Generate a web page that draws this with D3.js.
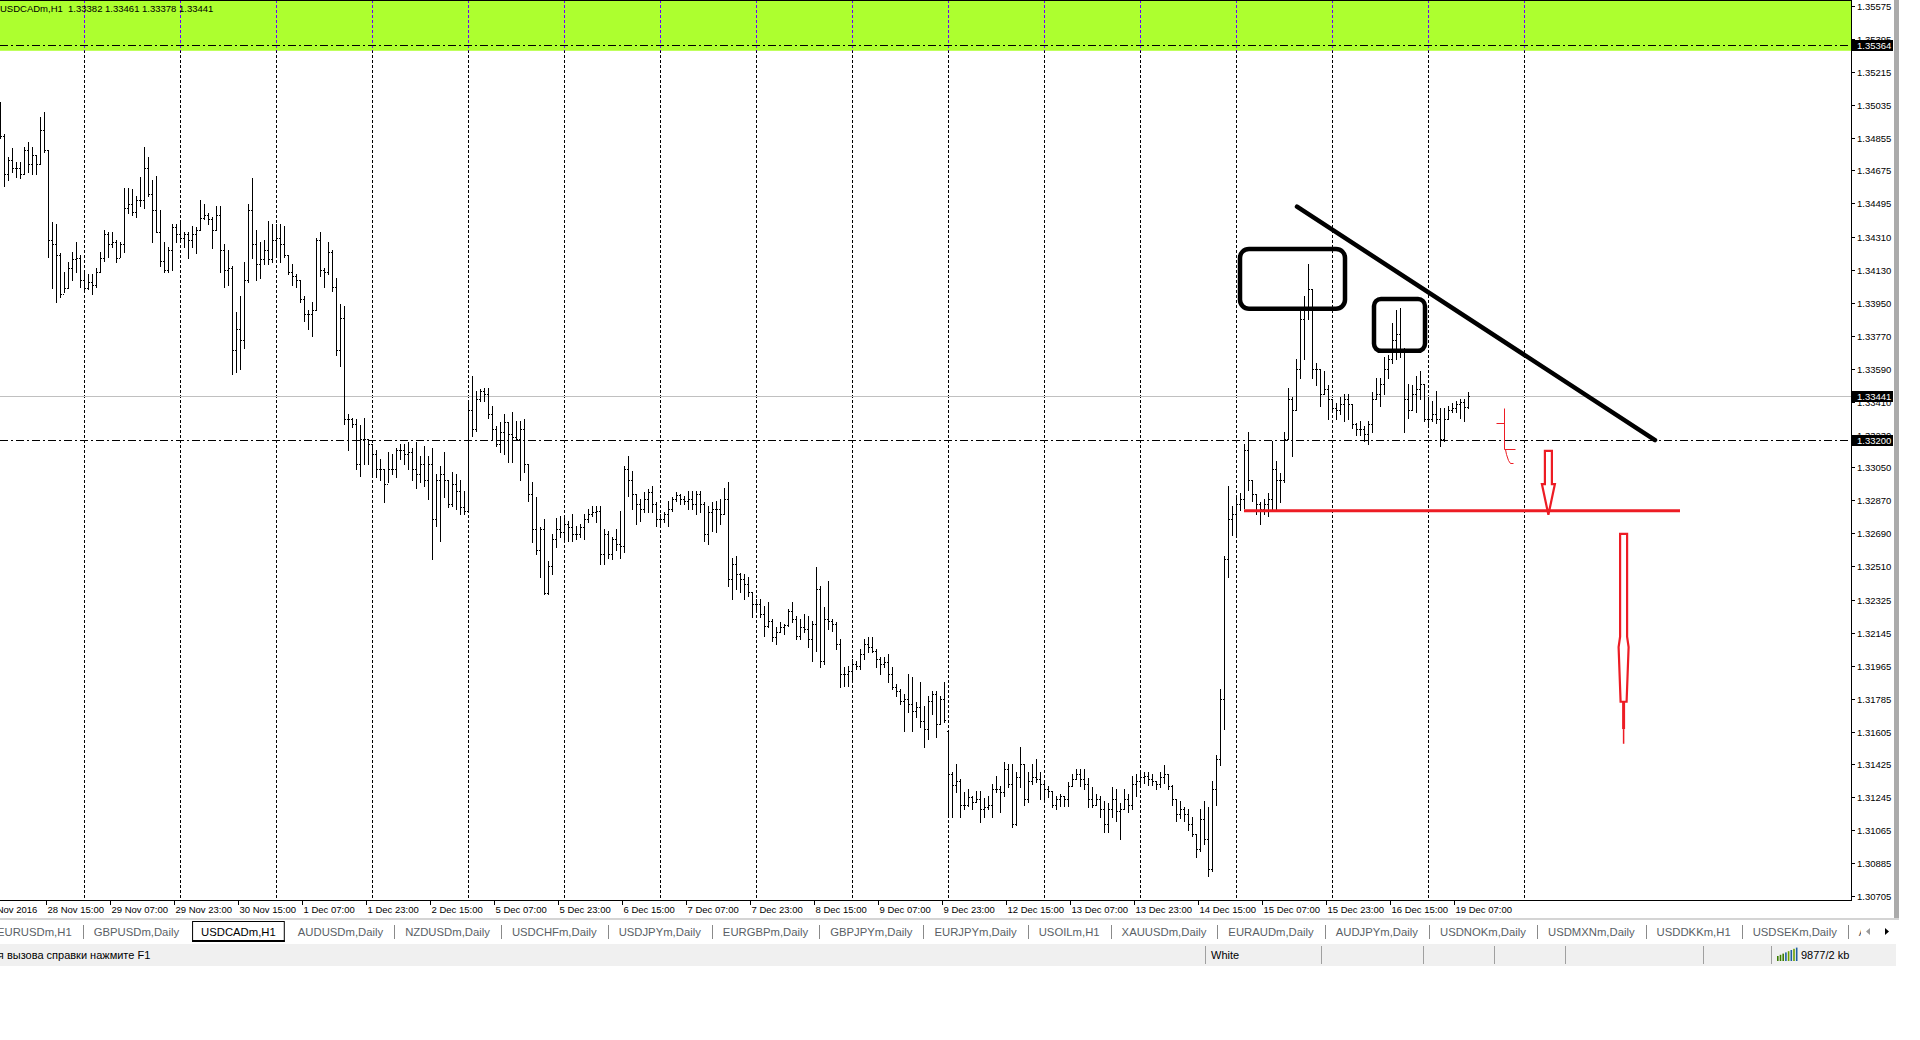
<!DOCTYPE html>
<html><head><meta charset="utf-8">
<script src="https://cdn.jsdelivr.net/npm/d3@7"></script>
<style>
html,body{margin:0;padding:0;background:#fff;overflow:hidden;}
svg{display:block;}
text{font-family:"Liberation Sans",Arial,sans-serif;}
</style></head><body>
<svg id="c" width="1920" height="1040"></svg>
<script>
// ---------------- DATA ----------------
const chartTitle = "USDCADm,H1";
const lastQuote = [1.33382, 1.33461, 1.33378, 1.33441];

const barOpen = [1.34981,1.34866,1.34653,1.34735,1.34691,1.34691,1.34653,1.34789,1.34708,1.34762,1.34708,1.34899,1.34789,1.34297,1.34270,1.34215,1.33997,1.34034,1.34144,1.34188,
1.34198,1.34078,1.34034,1.34067,1.34051,1.34122,1.34198,1.34325,1.34270,1.34286,1.34198,1.34270,1.34472,1.34489,1.34450,1.34516,1.34516,1.34691,1.34544,1.34461,
1.34341,1.34177,1.34133,1.34242,1.34363,1.34325,1.34308,1.34325,1.34297,1.34325,1.34352,1.34417,1.34434,1.34407,1.34352,1.34434,1.34242,1.34133,1.34144,1.33695,
1.33805,1.33750,1.34078,1.34461,1.34270,1.34161,1.34188,1.34242,1.34188,1.34297,1.34308,1.34270,1.34215,1.34122,1.34095,1.34078,1.33969,1.33887,1.33887,1.33914,
1.34297,1.34133,1.34122,1.34231,1.34040,1.33695,1.33870,1.33313,1.33313,1.33286,1.33067,1.33203,1.33203,1.33176,1.33121,1.33039,1.33039,1.32957,1.33039,1.33039,
1.33148,1.33148,1.33121,1.33137,1.33039,1.33012,1.33067,1.32984,1.33067,1.32766,1.32984,1.33012,1.32984,1.32848,1.32957,1.32919,1.32831,1.32809,1.33367,1.33258,
1.33422,1.33466,1.33450,1.33340,1.33258,1.33176,1.33242,1.33297,1.33231,1.33214,1.33203,1.33258,1.33067,1.32903,1.32711,1.32601,1.32711,1.32361,1.32509,1.32656,
1.32711,1.32695,1.32738,1.32722,1.32684,1.32684,1.32722,1.32766,1.32793,1.32804,1.32809,1.32574,1.32684,1.32574,1.32656,1.32629,1.32618,1.33039,1.32984,1.32903,
1.32848,1.32820,1.32875,1.32914,1.32848,1.32766,1.32766,1.32793,1.32820,1.32875,1.32897,1.32875,1.32864,1.32875,1.32848,1.32903,1.32848,1.32684,1.32804,1.32820,
1.32820,1.32793,1.32875,1.32437,1.32520,1.32465,1.32437,1.32410,1.32367,1.32301,1.32301,1.32246,1.32181,1.32208,1.32120,1.32148,1.32175,1.32186,1.32262,1.32219,
1.32125,1.32175,1.32164,1.32109,1.32191,1.32383,1.31989,1.32219,1.32208,1.32191,1.32082,1.31918,1.31918,1.31934,1.31973,1.31962,1.32027,1.32082,1.32065,1.32043,
1.32000,1.31973,1.31984,1.31918,1.31847,1.31825,1.31770,1.31781,1.31754,1.31715,1.31737,1.31661,1.31617,1.31770,1.31809,1.31644,1.31781,1.31606,1.31371,1.31315,
1.31332,1.31205,1.31205,1.31245,1.31218,1.31234,1.31179,1.31190,1.31205,1.31289,1.31289,1.31273,1.31398,1.31316,1.31097,1.31354,1.31425,1.31234,1.31332,1.31354,
1.31343,1.31316,1.31289,1.31278,1.31205,1.31234,1.31250,1.31234,1.31305,1.31343,1.31371,1.31343,1.31316,1.31234,1.31205,1.31234,1.31179,1.31097,1.31179,1.31234,
1.31168,1.31179,1.31234,1.31205,1.31316,1.31332,1.31354,1.31360,1.31343,1.31332,1.31316,1.31354,1.31371,1.31305,1.31234,1.31152,1.31179,1.31152,1.31097,1.31042,
1.30960,1.31125,1.31015,1.30851,1.31289,1.31453,1.31781,1.32547,1.32766,1.32793,1.32848,1.32875,1.33148,1.32984,1.32903,1.32848,1.32820,1.32848,1.32875,1.33039,
1.32984,1.32984,1.33203,1.33422,1.33367,1.33586,1.33860,1.33914,1.34024,1.33586,1.33586,1.33450,1.33477,1.33422,1.33378,1.33367,1.33395,1.33422,1.33395,1.33286,
1.33258,1.33258,1.33231,1.33286,1.33422,1.33450,1.33504,1.33586,1.33641,1.33750,1.33778,1.33695,1.33422,1.33367,1.33450,1.33477,1.33504,1.33313,1.33313,1.33340,
1.33313,1.33203,1.33313,1.33367,1.33378,1.33395,1.33406,1.33382];

const barHigh = [1.35052,1.34872,1.34751,1.34800,1.34724,1.34724,1.34806,1.34833,1.34806,1.34762,1.34970,1.34997,1.34789,1.34391,1.34380,1.34226,1.34122,1.34172,1.34231,1.34286,
1.34215,1.34133,1.34106,1.34106,1.34144,1.34231,1.34352,1.34341,1.34336,1.34297,1.34281,1.34581,1.34581,1.34571,1.34533,1.34642,1.34806,1.34751,1.34625,1.34647,
1.34461,1.34286,1.34259,1.34380,1.34380,1.34396,1.34341,1.34341,1.34369,1.34363,1.34516,1.34489,1.34445,1.34423,1.34478,1.34478,1.34270,1.34242,1.34150,1.33898,
1.33986,1.34172,1.34489,1.34636,1.34352,1.34286,1.34297,1.34396,1.34380,1.34380,1.34380,1.34369,1.34215,1.34161,1.34106,1.34078,1.33986,1.33914,1.33953,1.34308,
1.34341,1.34144,1.34286,1.34242,1.34089,1.33942,1.33931,1.33340,1.33323,1.33313,1.33280,1.33318,1.33203,1.33176,1.33148,1.33094,1.33039,1.33132,1.33121,1.33159,
1.33176,1.33176,1.33187,1.33159,1.33187,1.33110,1.33165,1.33110,1.33159,1.33012,1.33056,1.33132,1.32984,1.33023,1.33012,1.32984,1.32919,1.33411,1.33548,1.33466,
1.33477,1.33482,1.33482,1.33384,1.33275,1.33297,1.33340,1.33297,1.33351,1.33302,1.33302,1.33313,1.33067,1.32968,1.32886,1.32722,1.32766,1.32536,1.32684,1.32776,
1.32782,1.32776,1.32755,1.32793,1.32728,1.32738,1.32793,1.32820,1.32837,1.32837,1.32837,1.32711,1.32700,1.32667,1.32711,1.32809,1.33056,1.33110,1.33028,1.32903,
1.32875,1.32914,1.32930,1.32946,1.32859,1.32793,1.32804,1.32864,1.32886,1.32914,1.32903,1.32892,1.32919,1.32919,1.32919,1.32919,1.32859,1.32837,1.32859,1.32864,
1.32875,1.32940,1.32968,1.32557,1.32568,1.32470,1.32465,1.32448,1.32367,1.32328,1.32328,1.32290,1.32312,1.32219,1.32175,1.32202,1.32191,1.32273,1.32312,1.32235,
1.32219,1.32246,1.32235,1.32208,1.32503,1.32399,1.32284,1.32426,1.32219,1.32202,1.32109,1.31956,1.31962,1.32000,1.31989,1.32054,1.32109,1.32120,1.32120,1.32054,
1.32011,1.32011,1.32027,1.31956,1.31863,1.31836,1.31809,1.31918,1.31902,1.31765,1.31874,1.31743,1.31798,1.31825,1.31825,1.31798,1.31874,1.31606,1.31382,1.31425,
1.31343,1.31273,1.31289,1.31250,1.31278,1.31278,1.31240,1.31250,1.31316,1.31360,1.31305,1.31436,1.31425,1.31425,1.31382,1.31518,1.31425,1.31382,1.31425,1.31453,
1.31382,1.31332,1.31305,1.31278,1.31250,1.31261,1.31250,1.31327,1.31371,1.31398,1.31398,1.31398,1.31349,1.31300,1.31261,1.31250,1.31223,1.31212,1.31300,1.31289,
1.31212,1.31289,1.31261,1.31360,1.31371,1.31382,1.31382,1.31382,1.31371,1.31332,1.31382,1.31420,1.31371,1.31311,1.31234,1.31223,1.31190,1.31179,1.31140,1.31042,
1.31179,1.31223,1.31190,1.31332,1.31479,1.31836,1.32568,1.32946,1.32837,1.32886,1.32908,1.33181,1.33242,1.32984,1.32903,1.32859,1.32875,1.32908,1.33192,1.33083,
1.33017,1.33242,1.33482,1.33433,1.33641,1.33925,1.33986,1.34164,1.34029,1.33619,1.33591,1.33580,1.33499,1.33422,1.33400,1.33433,1.33450,1.33450,1.33395,1.33291,
1.33302,1.33275,1.33302,1.33461,1.33542,1.33542,1.33656,1.33667,1.33838,1.33914,1.33925,1.33706,1.33509,1.33499,1.33548,1.33580,1.33504,1.33433,1.33411,1.33471,
1.33373,1.33373,1.33384,1.33400,1.33411,1.33422,1.33422,1.33461];

const barLow = [1.34855,1.34592,1.34625,1.34669,1.34642,1.34636,1.34653,1.34664,1.34653,1.34653,1.34708,1.34778,1.34204,1.34034,1.33958,1.33980,1.34008,1.34034,1.34078,1.34117,
1.34040,1.34013,1.34024,1.33997,1.34040,1.34117,1.34177,1.34204,1.34259,1.34172,1.34204,1.34231,1.34445,1.34434,1.34423,1.34478,1.34472,1.34533,1.34286,1.34341,
1.34150,1.34117,1.34117,1.34133,1.34286,1.34281,1.34259,1.34198,1.34259,1.34226,1.34352,1.34407,1.34380,1.34253,1.34352,1.34122,1.34040,1.34051,1.33559,1.33570,
1.33586,1.33706,1.34067,1.34198,1.34078,1.34089,1.34161,1.34161,1.34172,1.34204,1.34172,1.34204,1.34106,1.34051,1.34040,1.33958,1.33849,1.33805,1.33767,1.33914,
1.34095,1.34040,1.34106,1.34013,1.33668,1.33603,1.33286,1.33148,1.33269,1.33039,1.33001,1.33067,1.33067,1.33012,1.32995,1.32984,1.32859,1.32973,1.33012,1.32995,
1.33094,1.33067,1.33039,1.32984,1.32940,1.32973,1.32946,1.32875,1.32547,1.32728,1.32645,1.32886,1.32831,1.32837,1.32820,1.32793,1.32793,1.32809,1.33220,1.33247,
1.33411,1.33411,1.33323,1.33203,1.33165,1.33132,1.33121,1.33078,1.33078,1.33203,1.32984,1.33023,1.32864,1.32640,1.32574,1.32448,1.32356,1.32356,1.32465,1.32612,
1.32667,1.32645,1.32645,1.32645,1.32656,1.32667,1.32656,1.32749,1.32782,1.32749,1.32520,1.32520,1.32557,1.32547,1.32601,1.32557,1.32590,1.32892,1.32820,1.32738,
1.32755,1.32804,1.32804,1.32804,1.32728,1.32728,1.32749,1.32728,1.32809,1.32864,1.32848,1.32848,1.32820,1.32820,1.32793,1.32804,1.32645,1.32629,1.32700,1.32695,
1.32738,1.32793,1.32399,1.32328,1.32383,1.32367,1.32328,1.32345,1.32229,1.32257,1.32229,1.32125,1.32175,1.32098,1.32082,1.32148,1.32137,1.32181,1.32202,1.32109,
1.32109,1.32148,1.32065,1.31989,1.32043,1.31956,1.31973,1.32164,1.32153,1.32054,1.31847,1.31852,1.31852,1.31890,1.31945,1.31945,1.32000,1.32038,1.32038,1.31956,
1.31918,1.31956,1.31874,1.31836,1.31798,1.31754,1.31606,1.31710,1.31606,1.31683,1.31628,1.31518,1.31562,1.31699,1.31573,1.31644,1.31655,1.31135,1.31135,1.31273,
1.31140,1.31179,1.31195,1.31179,1.31218,1.31108,1.31135,1.31179,1.31135,1.31273,1.31163,1.31250,1.31300,1.31081,1.31092,1.31300,1.31205,1.31218,1.31316,1.31327,
1.31234,1.31234,1.31245,1.31190,1.31179,1.31195,1.31195,1.31195,1.31305,1.31343,1.31305,1.31289,1.31190,1.31190,1.31201,1.31140,1.31053,1.31053,1.31140,1.31113,
1.31015,1.31179,1.31163,1.31179,1.31250,1.31300,1.31322,1.31311,1.31311,1.31289,1.31300,1.31322,1.31289,1.31201,1.31113,1.31130,1.31113,1.31064,1.31031,1.30921,
1.30949,1.30987,1.30813,1.30840,1.31201,1.31420,1.31617,1.32448,1.32678,1.32678,1.32815,1.32826,1.32924,1.32864,1.32798,1.32738,1.32798,1.32787,1.32815,1.32815,
1.32859,1.32973,1.33203,1.33115,1.33367,1.33542,1.33641,1.33865,1.33542,1.33499,1.33384,1.33450,1.33313,1.33351,1.33313,1.33340,1.33302,1.33313,1.33264,1.33225,
1.33225,1.33192,1.33181,1.33242,1.33422,1.33384,1.33450,1.33542,1.33619,1.33641,1.33657,1.33242,1.33323,1.33362,1.33351,1.33422,1.33302,1.33275,1.33302,1.33291,
1.33165,1.33192,1.33313,1.33351,1.33351,1.33323,1.33302,1.33378];

const barClose = [1.34866,1.34653,1.34735,1.34691,1.34691,1.34653,1.34789,1.34708,1.34762,1.34708,1.34899,1.34789,1.34297,1.34270,1.34215,1.33997,1.34034,1.34144,1.34188,1.34198,
1.34078,1.34034,1.34067,1.34051,1.34122,1.34198,1.34325,1.34270,1.34286,1.34198,1.34270,1.34472,1.34489,1.34450,1.34516,1.34516,1.34691,1.34544,1.34461,1.34341,
1.34177,1.34133,1.34242,1.34363,1.34325,1.34308,1.34325,1.34297,1.34325,1.34352,1.34417,1.34434,1.34407,1.34352,1.34434,1.34242,1.34133,1.34144,1.33695,1.33805,
1.33750,1.34078,1.34461,1.34270,1.34161,1.34188,1.34242,1.34188,1.34297,1.34308,1.34270,1.34215,1.34122,1.34095,1.34078,1.33969,1.33887,1.33887,1.33914,1.34297,
1.34133,1.34122,1.34231,1.34040,1.33695,1.33870,1.33313,1.33313,1.33286,1.33067,1.33203,1.33203,1.33176,1.33121,1.33039,1.33039,1.32957,1.33039,1.33039,1.33148,
1.33148,1.33121,1.33137,1.33039,1.33012,1.33067,1.32984,1.33067,1.32766,1.32984,1.33012,1.32984,1.32848,1.32957,1.32919,1.32831,1.32809,1.33367,1.33258,1.33422,
1.33466,1.33450,1.33340,1.33258,1.33176,1.33242,1.33297,1.33231,1.33214,1.33203,1.33258,1.33067,1.32903,1.32711,1.32601,1.32711,1.32361,1.32509,1.32656,1.32711,
1.32695,1.32738,1.32722,1.32684,1.32684,1.32722,1.32766,1.32793,1.32804,1.32809,1.32574,1.32684,1.32574,1.32656,1.32629,1.32618,1.33039,1.32984,1.32903,1.32848,
1.32820,1.32875,1.32914,1.32848,1.32766,1.32766,1.32793,1.32820,1.32875,1.32897,1.32875,1.32864,1.32875,1.32848,1.32903,1.32848,1.32684,1.32804,1.32820,1.32820,
1.32793,1.32875,1.32437,1.32520,1.32465,1.32437,1.32410,1.32367,1.32301,1.32301,1.32246,1.32181,1.32208,1.32120,1.32148,1.32175,1.32186,1.32262,1.32219,1.32125,
1.32175,1.32164,1.32109,1.32191,1.32383,1.31989,1.32219,1.32208,1.32191,1.32082,1.31918,1.31918,1.31934,1.31973,1.31962,1.32027,1.32082,1.32065,1.32043,1.32000,
1.31973,1.31984,1.31918,1.31847,1.31825,1.31770,1.31781,1.31754,1.31715,1.31737,1.31661,1.31617,1.31770,1.31809,1.31644,1.31781,1.31667,1.31371,1.31315,1.31332,
1.31205,1.31205,1.31245,1.31218,1.31234,1.31179,1.31190,1.31205,1.31289,1.31289,1.31273,1.31398,1.31316,1.31097,1.31354,1.31425,1.31234,1.31332,1.31354,1.31343,
1.31316,1.31289,1.31278,1.31205,1.31234,1.31250,1.31234,1.31305,1.31343,1.31371,1.31343,1.31316,1.31234,1.31205,1.31234,1.31179,1.31097,1.31179,1.31234,1.31168,
1.31179,1.31234,1.31205,1.31316,1.31332,1.31354,1.31360,1.31343,1.31332,1.31316,1.31354,1.31371,1.31305,1.31234,1.31152,1.31179,1.31152,1.31097,1.31042,1.30960,
1.31125,1.31015,1.30851,1.31289,1.31453,1.31781,1.32547,1.32766,1.32793,1.32848,1.32875,1.33148,1.32984,1.32903,1.32848,1.32820,1.32848,1.32875,1.33039,1.32984,
1.32984,1.33203,1.33422,1.33367,1.33586,1.33860,1.33914,1.34024,1.33586,1.33586,1.33450,1.33477,1.33422,1.33378,1.33367,1.33395,1.33422,1.33395,1.33286,1.33258,
1.33258,1.33231,1.33286,1.33422,1.33450,1.33504,1.33586,1.33641,1.33750,1.33778,1.33695,1.33422,1.33367,1.33450,1.33477,1.33504,1.33313,1.33313,1.33340,1.33313,
1.33203,1.33313,1.33367,1.33378,1.33395,1.33406,1.33382,1.33441];

const priceTicks = [1.35575,1.35395,1.35215,1.35035,1.34855,1.34675,1.34495,1.34310,1.34130,1.33950,1.33770,1.33590,1.33410,1.33230,
1.33050,1.32870,1.32690,1.32510,1.32325,1.32145,1.31965,1.31785,1.31605,1.31425,1.31245,1.31065,1.30885,1.30705];

const timeLabels = ["25 Nov 2016","28 Nov 15:00","29 Nov 07:00","29 Nov 23:00","30 Nov 15:00","1 Dec 07:00","1 Dec 23:00","2 Dec 15:00",
"5 Dec 07:00","5 Dec 23:00","6 Dec 15:00","7 Dec 07:00","7 Dec 23:00","8 Dec 15:00","9 Dec 07:00","9 Dec 23:00","12 Dec 15:00",
"13 Dec 07:00","13 Dec 23:00","14 Dec 15:00","15 Dec 07:00","15 Dec 23:00","16 Dec 15:00","19 Dec 07:00"];
const timeLabelBars = [-4,12,28,44,60,76,92,108,124,140,156,172,188,204,220,236,252,268,284,300,316,332,348,364];
const dayStartBars = [21,45,69,93,117,141,165,189,213,237,261,285,309,333,357,381];

// horizontal levels
const dashDotLevels = [1.35364, 1.33200];
const bidPrice = 1.33441;
const zonePrices = [1.35330, 1.36000];
const zoneBars = [-40, 520];

// hand-drawn annotations (in bar index / price units)
const trendBars = [324.25, 413.75], trendPrices = [1.34477, 1.33200];
const box1Bars = [310, 336.25], box1Prices = [1.34246, 1.33918];
const box2Bars = [343.5, 356.25], box2Prices = [1.33972, 1.33688];
const redLineBars = [311, 420], redLinePrice = 1.32813;
const markBar = 376, markPrices = [1.33376, 1.33294, 1.33152, 1.33075];
const arrow1Bar = 387.1, arrow1Prices = [1.33141, 1.32791];
const arrow2Bar = 405.9, arrow2Prices = [1.32687, 1.31538];

const tabNames = ["EURUSDm,H1","GBPUSDm,Daily","USDCADm,H1","AUDUSDm,Daily","NZDUSDm,Daily","USDCHFm,Daily","USDJPYm,Daily",
"EURGBPm,Daily","GBPJPYm,Daily","EURJPYm,Daily","USOILm,H1","XAUUSDm,Daily","EURAUDm,Daily","AUDJPYm,Daily","USDNOKm,Daily",
"USDMXNm,Daily","USDDKKm,H1","USDSEKm,Daily","AUDNZDm,Daily"];
const activeTab = 2;
const statusHelp = "Для вызова справки нажмите F1";
const statusScheme = "White";
const statusTraffic = "9877/2 kb";

// ---------------- DRAW ----------------
const svg = d3.select('#c');
const plotRight = 1851, plotBottom = 900;
const x = d3.scaleLinear().domain([0, 367]).range([0, 1468]);
const y = d3.scaleLinear().domain([1.30705, 1.35575]).range([896, 6]);
const px = v => Math.round(x(v));
const py = v => Math.round(y(v));

svg.append('rect').attr('width',1920).attr('height',1040).attr('fill','#fff');
const defs = svg.append('defs');
defs.append('clipPath').attr('id','pc').append('rect').attr('x',0).attr('y',0).attr('width',plotRight).attr('height',plotBottom);
defs.append('clipPath').attr('id','tc').append('rect').attr('x',0).attr('y',900).attr('width',1861).attr('height',60);
const plot = svg.append('g').attr('clip-path','url(#pc)');

// green zone
const zTop = Math.max(-5, y(zonePrices[1])), zBot = y(zonePrices[0]);
plot.append('rect').attr('x', x(zoneBars[0])).attr('width', x(zoneBars[1]) - x(zoneBars[0]))
  .attr('y', zTop).attr('height', zBot - zTop).attr('fill', '#ADFF2F');

// vertical day grid
plot.selectAll('line.grid').data(dayStartBars).join('line').attr('class','grid')
  .attr('x1', d => px(d) + 0.5).attr('x2', d => px(d) + 0.5)
  .attr('y1', 0).attr('y2', plotBottom)
  .attr('stroke', '#000').attr('stroke-width', 1).attr('stroke-dasharray', '3,2');
plot.selectAll('line.gridz').data(dayStartBars).join('line').attr('class','gridz')
  .attr('x1', d => px(d) + 0.5).attr('x2', d => px(d) + 0.5)
  .attr('y1', 0).attr('y2', zBot)
  .attr('stroke', '#6A00FF').attr('stroke-width', 1).attr('stroke-dasharray', '3,2');

// bid line
plot.append('line').attr('x1', 0).attr('x2', plotRight).attr('y1', py(bidPrice) + 0.5).attr('y2', py(bidPrice) + 0.5)
  .attr('stroke', '#C0C0C0').attr('stroke-width', 1);

// dash-dot levels
plot.selectAll('line.lvl').data(dashDotLevels).join('line').attr('class','lvl')
  .attr('x1', 0).attr('x2', plotRight).attr('y1', d => py(d) + 0.5).attr('y2', d => py(d) + 0.5)
  .attr('stroke', '#000').attr('stroke-width', 1).attr('stroke-dasharray', '8,3,2,3');

// OHLC bars
const bars = d3.range(barHigh.length);
const gb = plot.append('g').attr('fill', '#000');
gb.selectAll('rect.hl').data(bars).join('rect').attr('class','hl')
  .attr('x', i => px(i)).attr('width', 1)
  .attr('y', i => py(barHigh[i])).attr('height', i => Math.max(1, py(barLow[i]) - py(barHigh[i]) + 1));
gb.selectAll('rect.op').data(bars).join('rect').attr('class','op')
  .attr('x', i => px(i) - 1).attr('width', 1).attr('y', i => py(barOpen[i])).attr('height', 1);
gb.selectAll('rect.cl').data(bars).join('rect').attr('class','cl')
  .attr('x', i => px(i) + 1).attr('width', 1).attr('y', i => py(barClose[i])).attr('height', 1);

// annotations
const red = '#ED1C24';
plot.append('line')
  .attr('x1', x(trendBars[0])).attr('y1', y(trendPrices[0]))
  .attr('x2', x(trendBars[1])).attr('y2', y(trendPrices[1]))
  .attr('stroke', '#000').attr('stroke-width', 4.5).attr('stroke-linecap', 'round');
[[box1Bars, box1Prices, 9], [box2Bars, box2Prices, 7]].forEach(([b, p, r]) => {
  plot.append('rect').attr('x', x(b[0])).attr('y', y(p[0]))
    .attr('width', x(b[1]) - x(b[0])).attr('height', y(p[1]) - y(p[0]))
    .attr('rx', r).attr('ry', r).attr('fill', 'none').attr('stroke', '#000').attr('stroke-width', 4.5);
});
plot.append('line').attr('x1', x(redLineBars[0])).attr('x2', x(redLineBars[1]))
  .attr('y1', y(redLinePrice)).attr('y2', y(redLinePrice)).attr('stroke', red).attr('stroke-width', 3);

// small red mark
{
  const mx = px(markBar) + 0.5, m = markPrices.map(v => py(v) + 0.5);
  const g = plot.append('g').attr('stroke', red).attr('stroke-width', 1).attr('fill', 'none');
  g.append('line').attr('x1', mx).attr('x2', mx).attr('y1', m[0]).attr('y2', m[2]);
  g.append('line').attr('x1', mx - 8).attr('x2', mx).attr('y1', m[1]).attr('y2', m[1]);
  g.append('line').attr('x1', mx).attr('x2', mx + 11).attr('y1', m[2]).attr('y2', m[2]);
  g.append('path').attr('d', `M${mx+1},${m[2]} L${mx+2},${m[2]+5} L${mx+4},${m[3]-3} L${mx+6},${m[3]} L${mx+9},${m[3]}`);
}
// hollow arrows
{
  const cx = x(arrow1Bar), t = y(arrow1Prices[0]), tip = y(arrow1Prices[1]);
  const hs = t + (tip - t) * 0.52;
  plot.append('path').attr('d', `M${cx-3.5},${t} L${cx+3.5},${t} L${cx+3.5},${hs} L${cx+6.5},${hs} L${cx},${tip} L${cx-6.5},${hs} L${cx-3.5},${hs} Z`)
    .attr('fill', '#fff').attr('stroke', red).attr('stroke-width', 2.2).attr('stroke-linejoin', 'miter');
}
{
  const cx = x(arrow2Bar), t = y(arrow2Prices[0]), tip = y(arrow2Prices[1]);
  const L = tip - t;
  const a = t + L * 0.49, b = t + L * 0.54, c = t + L * 0.80;
  plot.append('path').attr('d', `M${cx-3.5},${t} L${cx+3.5},${t} L${cx+3.5},${a} L${cx+5},${b} L${cx+3},${c} L${cx+1},${c} L${cx-1},${c} L${cx-3},${c} L${cx-5},${b} L${cx-3.5},${a} Z`)
    .attr('fill', '#fff').attr('stroke', red).attr('stroke-width', 2.2);
  plot.append('line').attr('x1', cx).attr('x2', cx).attr('y1', c).attr('y2', t + L * 0.93).attr('stroke', red).attr('stroke-width', 3);
  plot.append('line').attr('x1', cx).attr('x2', cx).attr('y1', t + L * 0.93).attr('y2', tip).attr('stroke', red).attr('stroke-width', 1.5);
}

// title
svg.append('text').attr('x', 0).attr('y', 11.5).attr('font-size', 9.5).attr('fill', '#000')
  .attr('xml:space', 'preserve')
  .text(chartTitle + "  " + lastQuote.map(v => v.toFixed(5)).join(" "));

// frame
svg.append('line').attr('x1', 0).attr('x2', plotRight + 1).attr('y1', 0.5).attr('y2', 0.5).attr('stroke', '#000');
svg.append('line').attr('x1', plotRight + 0.5).attr('x2', plotRight + 0.5).attr('y1', 0).attr('y2', plotBottom + 1).attr('stroke', '#000');
svg.append('line').attr('x1', 0).attr('x2', plotRight + 1).attr('y1', plotBottom + 0.5).attr('y2', plotBottom + 0.5).attr('stroke', '#000');

// price axis
const ya = svg.append('g');
ya.selectAll('line').data(priceTicks).join('line')
  .attr('x1', plotRight).attr('x2', plotRight + 4).attr('y1', d => py(d) + 0.5).attr('y2', d => py(d) + 0.5).attr('stroke', '#000');
ya.selectAll('text').data(priceTicks).join('text')
  .attr('x', plotRight + 6).attr('y', d => py(d) + 4).attr('font-size', 9.5).attr('fill', '#000')
  .text(d => d.toFixed(5));

// price label boxes
const boxes = [...dashDotLevels, bidPrice];
const lb = svg.append('g');
lb.selectAll('rect').data(boxes).join('rect')
  .attr('x', plotRight + 1).attr('y', d => py(d) - 5).attr('width', 41).attr('height', 11).attr('fill', '#000');
lb.selectAll('text').data(boxes).join('text')
  .attr('x', plotRight + 6).attr('y', d => py(d) + 4).attr('font-size', 9.5).attr('fill', '#fff')
  .text(d => d.toFixed(5));

// time axis
const xa = svg.append('g');
xa.selectAll('line').data(timeLabelBars).join('line')
  .attr('x1', d => px(d) - 1.5).attr('x2', d => px(d) - 1.5).attr('y1', plotBottom).attr('y2', plotBottom + 5).attr('stroke', '#000');
xa.selectAll('text').data(timeLabels).join('text')
  .attr('x', (d, i) => px(timeLabelBars[i]) - 0.5).attr('y', plotBottom + 12.5).attr('font-size', 9.5).attr('fill', '#000')
  .text(d => d);

// right gray bar
svg.append('rect').attr('x', 1894).attr('y', 0).attr('width', 5).attr('height', 919).attr('fill', '#ABABAB');

// tab bar
const tabY = 920, tabH = 23, tabFont = 11.3;
svg.append('rect').attr('x', 0).attr('y', tabY - 2).attr('width', 1899).attr('height', 2).attr('fill', '#D4D4D4');
svg.append('rect').attr('x', 0).attr('y', tabY).attr('width', 1899).attr('height', tabH).attr('fill', '#FFFFFF');
const tabs = svg.append('g').attr('clip-path', 'url(#tc)');
let tx = -3;
const gap = 22;
tabNames.forEach((n, i) => {
  const t = tabs.append('text').attr('x', tx).attr('y', tabY + 16).attr('font-size', tabFont)
    .attr('fill', i === activeTab ? '#000' : '#5A5F66').text(n);
  const w = t.node().getComputedTextLength();
  if (i === activeTab) {
    tabs.insert('rect', 'text').attr('x', tx - 8.5).attr('y', tabY + 1.5).attr('width', w + 17).attr('height', tabH - 3)
      .attr('fill', '#fff').attr('stroke', '#000').attr('stroke-width', 1);
    tabs.append('rect').attr('x', tx - 9).attr('y', tabY + tabH - 3).attr('width', w + 18).attr('height', 2).attr('fill', '#000');
  } else if (i + 1 !== activeTab && i < tabNames.length - 1) {
    tabs.append('rect').attr('x', Math.round(tx + w + gap / 2)).attr('y', tabY + 5).attr('width', 1).attr('height', 14).attr('fill', '#8A8A8A');
  }
  tx += w + gap;
});
// tab scroll arrows
svg.append('path').attr('d', `M1870,${tabY+8} L1866,${tabY+11.5} L1870,${tabY+15} Z`).attr('fill', '#9A9A9A');
svg.append('path').attr('d', `M1885,${tabY+8} L1889,${tabY+11.5} L1885,${tabY+15} Z`).attr('fill', '#000');

// status bar
const sY = 944, sH = 22;
svg.append('rect').attr('x', 0).attr('y', sY).attr('width', 1896).attr('height', sH).attr('fill', '#F0F0F0');
svg.append('text').attr('x', -16).attr('y', sY + 15).attr('font-size', 11).attr('fill', '#000').text(statusHelp);
[1205, 1321, 1423, 1494, 1565, 1703, 1771].forEach(sx => {
  svg.append('rect').attr('x', sx).attr('y', sY + 2).attr('width', 1).attr('height', sH - 4).attr('fill', '#A0A0A0');
});
svg.append('text').attr('x', 1211).attr('y', sY + 15).attr('font-size', 11).attr('fill', '#000').text(statusScheme);
const sig = svg.append('g');
d3.range(8).forEach(k => {
  const h = 5 + k * 1.2;
  sig.append('rect').attr('x', 1777 + k * 2.7).attr('y', sY + 17 - h).attr('width', 1.6).attr('height', h)
    .attr('fill', k < 3 ? '#3A7D00' : (k % 2 ? '#1F5F9F' : '#6AA000'));
});
svg.append('text').attr('x', 1801).attr('y', sY + 15).attr('font-size', 11).attr('fill', '#000').text(statusTraffic);
</script>
</body></html>
